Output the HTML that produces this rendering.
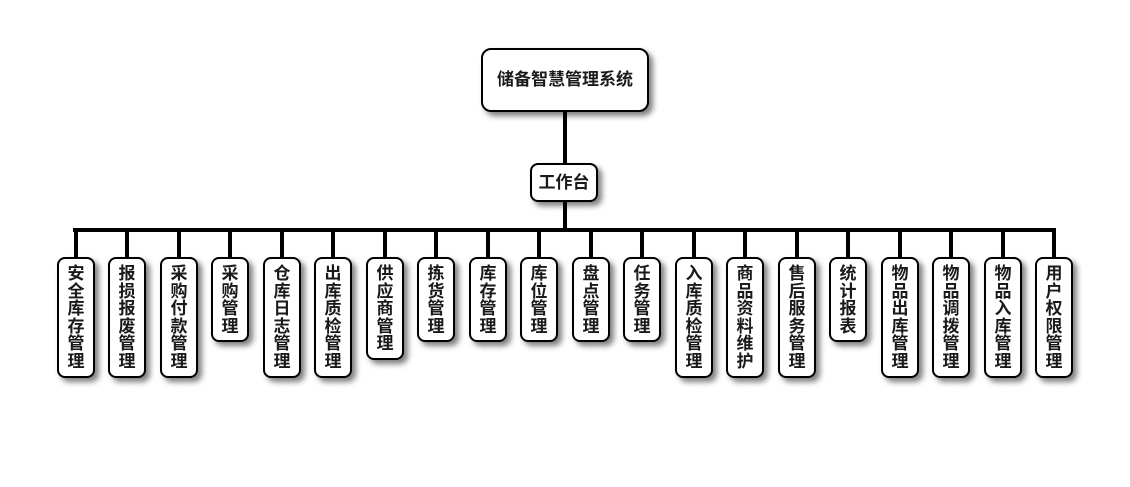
<!DOCTYPE html>
<html>
<head>
<meta charset="utf-8">
<style>
  html, body { margin:0; padding:0; background:#fff; }
  body { width:1130px; height:487px; position:relative; overflow:hidden;
         font-family:"Liberation Sans","Noto Sans CJK SC",sans-serif; }
  .ln { position:absolute; background:#000; }
  .box { position:absolute; box-sizing:border-box; border:2px solid #000; background:#fff;
         box-shadow:4px 4px 6px rgba(0,0,0,0.5); color:#1a1a1a; font-weight:bold; text-align:center; }
  .top { left:481px; top:48px; width:168px; height:64px; border-radius:10px;
         font-size:17px; line-height:60px; }
  .mid { left:530px; top:163px; width:68px; height:39px; border-radius:8px;
         font-size:17px; line-height:35px; }
  .v { top:257px; width:38px; border-radius:8px; font-size:17px; line-height:17.5px;
       padding-top:6px; }
  .h4 { height:85px; } .h5 { height:103px; } .h6 { height:121px; }
</style>
</head>
<body>
  <div class="ln" style="left:563px;top:110px;width:4px;height:55px;"></div>
  <div class="ln" style="left:563px;top:200px;width:4px;height:30px;"></div>
  <div class="ln" style="left:73px;top:228px;width:983px;height:4px;"></div>

  <div class="ln" style="left:74px;top:228px;width:4px;height:31px;"></div>
  <div class="ln" style="left:125px;top:228px;width:4px;height:31px;"></div>
  <div class="ln" style="left:177px;top:228px;width:4px;height:31px;"></div>
  <div class="ln" style="left:228px;top:228px;width:4px;height:31px;"></div>
  <div class="ln" style="left:280px;top:228px;width:4px;height:31px;"></div>
  <div class="ln" style="left:331px;top:228px;width:4px;height:31px;"></div>
  <div class="ln" style="left:383px;top:228px;width:4px;height:31px;"></div>
  <div class="ln" style="left:434px;top:228px;width:4px;height:31px;"></div>
  <div class="ln" style="left:486px;top:228px;width:4px;height:31px;"></div>
  <div class="ln" style="left:537px;top:228px;width:4px;height:31px;"></div>
  <div class="ln" style="left:589px;top:228px;width:4px;height:31px;"></div>
  <div class="ln" style="left:640px;top:228px;width:4px;height:31px;"></div>
  <div class="ln" style="left:692px;top:228px;width:4px;height:31px;"></div>
  <div class="ln" style="left:743px;top:228px;width:4px;height:31px;"></div>
  <div class="ln" style="left:795px;top:228px;width:4px;height:31px;"></div>
  <div class="ln" style="left:846px;top:228px;width:4px;height:31px;"></div>
  <div class="ln" style="left:898px;top:228px;width:4px;height:31px;"></div>
  <div class="ln" style="left:949px;top:228px;width:4px;height:31px;"></div>
  <div class="ln" style="left:1001px;top:228px;width:4px;height:31px;"></div>
  <div class="ln" style="left:1052px;top:228px;width:4px;height:31px;"></div>

  <div class="box top">储备智慧管理系统</div>
  <div class="box mid">工作台</div>

  <div class="box v h6" style="left:57px;">安<br>全<br>库<br>存<br>管<br>理</div>
  <div class="box v h6" style="left:108px;">报<br>损<br>报<br>废<br>管<br>理</div>
  <div class="box v h6" style="left:160px;">采<br>购<br>付<br>款<br>管<br>理</div>
  <div class="box v h4" style="left:211px;">采<br>购<br>管<br>理</div>
  <div class="box v h6" style="left:263px;">仓<br>库<br>日<br>志<br>管<br>理</div>
  <div class="box v h6" style="left:314px;">出<br>库<br>质<br>检<br>管<br>理</div>
  <div class="box v h5" style="left:366px;">供<br>应<br>商<br>管<br>理</div>
  <div class="box v h4" style="left:417px;">拣<br>货<br>管<br>理</div>
  <div class="box v h4" style="left:469px;">库<br>存<br>管<br>理</div>
  <div class="box v h4" style="left:520px;">库<br>位<br>管<br>理</div>
  <div class="box v h4" style="left:572px;">盘<br>点<br>管<br>理</div>
  <div class="box v h4" style="left:623px;">任<br>务<br>管<br>理</div>
  <div class="box v h6" style="left:675px;">入<br>库<br>质<br>检<br>管<br>理</div>
  <div class="box v h6" style="left:726px;">商<br>品<br>资<br>料<br>维<br>护</div>
  <div class="box v h6" style="left:778px;">售<br>后<br>服<br>务<br>管<br>理</div>
  <div class="box v h4" style="left:829px;">统<br>计<br>报<br>表</div>
  <div class="box v h6" style="left:881px;">物<br>品<br>出<br>库<br>管<br>理</div>
  <div class="box v h6" style="left:932px;">物<br>品<br>调<br>拨<br>管<br>理</div>
  <div class="box v h6" style="left:984px;">物<br>品<br>入<br>库<br>管<br>理</div>
  <div class="box v h6" style="left:1035px;">用<br>户<br>权<br>限<br>管<br>理</div>
</body>
</html>
